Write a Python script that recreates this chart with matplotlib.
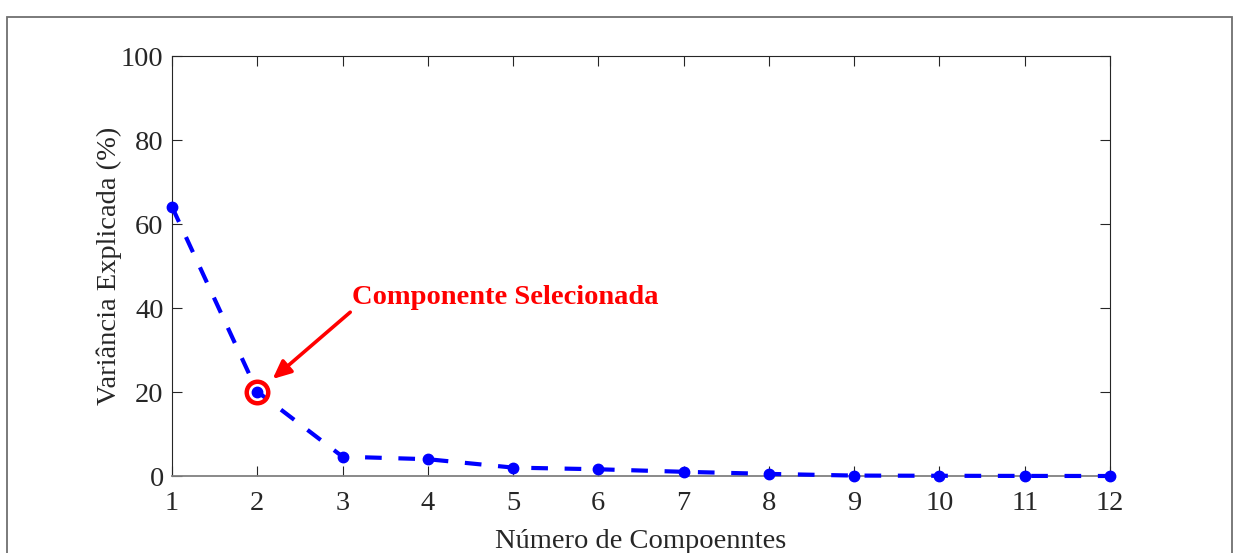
import matplotlib
matplotlib.use("Agg")
import matplotlib.pyplot as plt
from matplotlib.patches import Rectangle

# Explained variance per principal component
componentes = [1, 2, 3, 4, 5, 6, 7, 8, 9, 10, 11, 12]
variancia = [64.1, 20.1, 4.6, 4.0, 2.0, 1.6, 1.0, 0.5, 0.1, 0.05, 0.02, 0.0]
selecionada = 2
xticks = list(range(1, 13))
yticks = [0, 20, 40, 60, 80, 100]

plt.rcParams['font.family'] = ['Liberation Serif', 'DejaVu Serif']

W, H = 1235, 553
fig = plt.figure(figsize=(W / 100, H / 100), dpi=100)

# Outer frame (runs past the bottom edge)
fig.patches.append(Rectangle((7 / W, -0.05), (1232 - 7) / W, (H - 17) / H + 0.05,
                             transform=fig.transFigure, fill=False,
                             edgecolor='#707070', lw=1.3))

ax = fig.add_axes([172 / W, (H - 476) / H, (1110 - 172) / W, 420 / H])

ax.plot(componentes, variancia, color='#0000ff', lw=3, ls=(0, (4, 4)),
        marker='o', ms=7.5, mfc='#0000ff', mec='#0000ff', zorder=3,
        clip_on=False)

# Highlight the selected component
ax.plot(componentes[selecionada - 1], variancia[selecionada - 1], 'o',
        ms=15.5, mfc='none', mec='#ff0000', mew=3.2, zorder=4, clip_on=False)

ax.annotate('', xy=(2.18, 23.1), xytext=(3.09, 39.0),
            arrowprops=dict(arrowstyle='-|>,head_length=1.1,head_width=0.5',
                            color='#ff0000', lw=2.6, shrinkA=0, shrinkB=0))
ax.text(3.11, 42.4, 'Componente Selecionada', color='#ff0000',
        fontsize=20.5, fontweight='bold', ha='left', va='center')

ax.set_xlim(1, 12)
ax.set_ylim(0, 100)
ax.set_xticks(xticks)
ax.set_yticks(yticks)

for s in ax.spines.values():
    s.set_color('#262626')
    s.set_linewidth(0.8)
ax.spines['bottom'].set_color('#808080')
ax.spines['bottom'].set_linewidth(1.3)

ax.tick_params(direction='in', length=7, width=0.8, colors='#262626',
               labelsize=20.5, top=True, right=True)
ax.tick_params(axis='x', pad=11)
ax.tick_params(axis='y', pad=6)

ax.set_xlabel('Número de Compoenntes', fontsize=20.5, color='#262626', labelpad=9)
ax.set_ylabel('Variância Explicada (%)', fontsize=20.5, color='#262626', labelpad=-1)

fig.savefig('out.png', dpi=100)
